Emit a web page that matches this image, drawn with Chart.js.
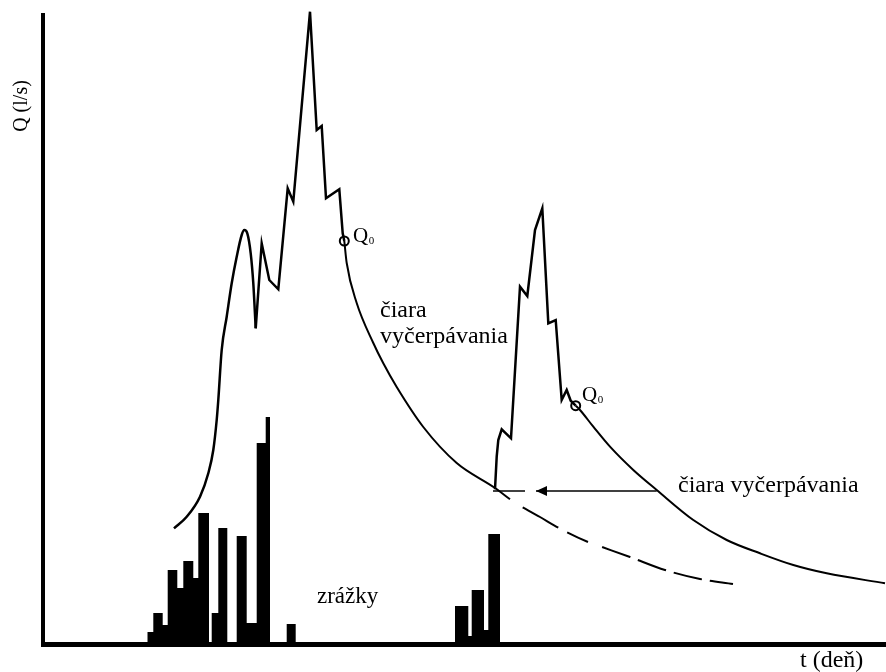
<!DOCTYPE html>
<html>
<head>
<meta charset="utf-8">
<script src="https://cdn.jsdelivr.net/npm/chart.js@4/dist/chart.umd.min.js"></script>
<style>
    html, body { margin: 0; padding: 0; background: #fff; overflow: hidden; }
    canvas { display: block; }
</style>
</head>
<body>
<canvas id="hydroChart" width="886" height="672"></canvas>
<script>
// schematic hydrograph: t in days, Q in l/s, rainfall depth on the same axis

// rainfall bars: left edge of each bar and its depth (0 = gap)
const rainT = [10.43, 11.03, 11.97, 12.47, 13.43, 14.03, 15.03, 15.53, 16.60, 16.87, 17.53, 18.43,
               19.37, 20.37, 21.37, 22.27, 22.70, 24.37, 25.27, 41.20, 42.53, 42.87, 44.10, 44.53, 45.70];
const rainDepth = [1.2, 3.1, 1.9, 7.4, 5.6, 8.3, 6.6, 13.1, 0, 3.1, 11.6, 0,
                   10.8, 2.1, 20.1, 22.7, 0, 2.0, 0, 3.8, 0.8, 5.4, 1.4, 11.0, 0];

// first flood wave - smooth rising limb
const rise1T = [13.10, 14.37, 15.70, 16.53, 17.03, 17.37, 17.53, 17.87, 18.37, 18.87, 19.37, 19.87,
                20.13, 20.43, 20.77, 21.03, 21.27];
const rise1Q = [11.57, 12.73, 14.73, 17.07, 19.40, 22.40, 24.40, 29.40, 32.73, 36.07, 38.73, 40.90,
                41.40, 41.07, 39.07, 36.07, 31.57];

// first flood wave - jagged part up to Q0
const jag1T = [21.27, 21.87, 22.63, 23.53, 24.47, 25.03, 26.70, 27.37, 27.87, 28.30, 29.63, 29.97, 30.13];
const jag1Q = [31.57, 40.07, 36.40, 35.47, 45.57, 44.23, 63.23, 51.40, 51.80, 44.57, 45.47, 41.07, 40.30];

// first recession curve
const rec1T = [30.13, 30.37, 31.37, 33.03, 34.03, 35.37, 38.03, 41.37, 45.20, 46.70];
const rec1Q = [40.30, 38.10, 34.10, 30.10, 28.07, 25.70, 21.70, 18.10, 15.60, 14.47];

// extrapolated (dashed) recession
const extrapT = [47.97, 49.70, 51.53, 54.50, 55.90, 58.70, 62.20, 65.70, 69.00];
const extrapQ = [13.67, 12.70, 11.63, 10.20, 9.70, 8.70, 7.40, 6.50, 6.00];

// second flood wave
const flood2T = [45.20, 45.37, 45.53, 45.87, 46.80, 47.70, 48.43, 49.20, 49.93, 50.53, 51.27, 51.87,
                 52.37, 52.77, 53.27];
const flood2Q = [15.47, 18.73, 20.40, 21.47, 20.57, 35.73, 34.80, 41.40, 43.57, 32.07, 32.40, 24.40,
                 25.40, 24.33, 23.83];

// second recession curve
const rec2T = [53.27, 53.70, 55.03, 56.70, 59.03, 61.37, 65.03, 68.37, 71.70, 75.03, 78.37, 84.20];
const rec2Q = [23.83, 23.40, 21.73, 19.73, 17.40, 15.40, 12.40, 10.40, 9.07, 7.90, 7.07, 6.07];

// arrow pointing back along the recession line
const arrowT = [61.37, 49.30];
const arrowQ = [15.30, 15.30];
const stubT = [45.00, 48.20];
const stubQ = [15.30, 15.30];

// Q0 points
const q0T = [30.13, 53.27];
const q0Q = [40.30, 23.83];
const q0LabelT = [31.0, 53.9];
const q0LabelQ = [40.2, 24.3];

// text notes
const noteText = ['zrážky', 'čiara', 'vyčerpávania', 'čiara vyčerpávania'];
const noteT = [27.4, 33.7, 33.7, 63.5];
const noteQ = [4.1, 32.7, 30.1, 15.2];

function pts(xs, ys) {
    return xs.map((x, i) => ({x: x, y: ys[i]}));
}

const SERIF = '"Liberation Serif", "Times New Roman", serif';
const ARROW_INDEX = 7;

const sketchText = {
    id: 'sketchText',
    afterDatasetsDraw(chart) {
        const ctx = chart.ctx;
        const area = chart.chartArea;
        const xs = chart.scales.x;
        const ys = chart.scales.y;
        ctx.save();
        ctx.fillStyle = '#000';
        ctx.textAlign = 'left';
        ctx.textBaseline = 'alphabetic';

        // arrowhead at the end of the arrow line
        const meta = chart.getDatasetMeta(ARROW_INDEX);
        const tip = meta.data[meta.data.length - 1];
        ctx.beginPath();
        ctx.moveTo(tip.x, tip.y);
        ctx.lineTo(tip.x + 11, tip.y - 5);
        ctx.lineTo(tip.x + 11, tip.y + 5);
        ctx.closePath();
        ctx.fill();

        // notes
        noteText.forEach((txt, i) => {
            ctx.font = (i === 0 ? 23 : 24) + 'px ' + SERIF;
            ctx.fillText(txt, xs.getPixelForValue(noteT[i]), ys.getPixelForValue(noteQ[i]));
        });

        // Q0 labels
        q0LabelT.forEach((t, i) => {
            const px = xs.getPixelForValue(t);
            const py = ys.getPixelForValue(q0LabelQ[i]);
            ctx.font = '21px ' + SERIF;
            ctx.fillText('Q', px, py);
            const w = ctx.measureText('Q').width;
            ctx.font = '11px ' + SERIF;
            ctx.fillText('0', px + w + 0.5, py + 2);
        });

        // axis titles
        ctx.font = '24px ' + SERIF;
        ctx.fillText('t (deň)', area.right - 86, area.bottom + 23);

        ctx.translate(area.left - 21, area.top + 91);
        ctx.rotate(-Math.PI / 2);
        ctx.font = '20px ' + SERIF;
        ctx.textAlign = 'center';
        ctx.textBaseline = 'middle';
        ctx.fillText('Q (l/s)', 0, 0);
        ctx.restore();
    }
};

document.addEventListener('DOMContentLoaded', function() {
    const ctx = document.getElementById('hydroChart').getContext('2d');

    new Chart(ctx, {
        type: 'line',
        data: {
            datasets: [
                {   // 0 rainfall
                    data: pts(rainT, rainDepth),
                    stepped: true,
                    fill: 'origin',
                    backgroundColor: '#000',
                    borderColor: 'rgba(0,0,0,0)',
                    borderWidth: 1
                },
                {   // 1
                    data: pts(rise1T, rise1Q),
                    cubicInterpolationMode: 'monotone',
                    borderColor: '#000',
                    borderWidth: 2.5
                },
                {   // 2
                    data: pts(jag1T, jag1Q),
                    tension: 0,
                    borderColor: '#000',
                    borderWidth: 2.5,
                    borderJoinStyle: 'miter',
                    clip: false
                },
                {   // 3
                    data: pts(rec1T, rec1Q),
                    cubicInterpolationMode: 'monotone',
                    borderColor: '#000',
                    borderWidth: 2
                },
                {   // 4
                    data: pts(extrapT, extrapQ),
                    cubicInterpolationMode: 'monotone',
                    borderColor: '#000',
                    borderWidth: 2,
                    borderDash: [41, 10, 23, 15, 30, 8, 30, 8, 29, 8, 30, 10]
                },
                {   // 5
                    data: pts(flood2T, flood2Q),
                    tension: 0,
                    borderColor: '#000',
                    borderWidth: 2.5,
                    borderJoinStyle: 'miter'
                },
                {   // 6
                    data: pts(rec2T, rec2Q),
                    cubicInterpolationMode: 'monotone',
                    borderColor: '#000',
                    borderWidth: 2
                },
                {   // 7 arrow
                    data: pts(arrowT, arrowQ),
                    tension: 0,
                    borderColor: '#000',
                    borderWidth: 1.5
                },
                {   // 8 arrow stub
                    data: pts(stubT, stubQ),
                    tension: 0,
                    borderColor: '#000',
                    borderWidth: 1.5
                },
                {   // 9 Q0 markers
                    data: pts(q0T, q0Q),
                    showLine: false,
                    pointRadius: 4.5,
                    pointBorderWidth: 2,
                    pointBackgroundColor: '#fff',
                    pointBorderColor: '#000'
                }
            ]
        },
        options: {
            responsive: false,
            animation: false,
            events: [],
            layout: {
                autoPadding: false,
                padding: {left: 43, top: 15, right: 0, bottom: 28}
            },
            elements: {
                point: { radius: 0 },
                line: { fill: false }
            },
            plugins: {
                legend: { display: false },
                tooltip: { enabled: false }
            },
            scales: {
                x: {
                    type: 'linear',
                    min: 0,
                    max: 84.3,
                    ticks: { display: false },
                    grid: { display: false, drawTicks: false },
                    border: { display: true, width: 5, color: '#000' }
                },
                y: {
                    type: 'linear',
                    min: 0,
                    max: 62.9,
                    ticks: { display: false },
                    grid: { display: false, drawTicks: false },
                    border: { display: true, width: 4, color: '#000' }
                }
            }
        },
        plugins: [sketchText]
    });
});
</script>
</body>
</html>
